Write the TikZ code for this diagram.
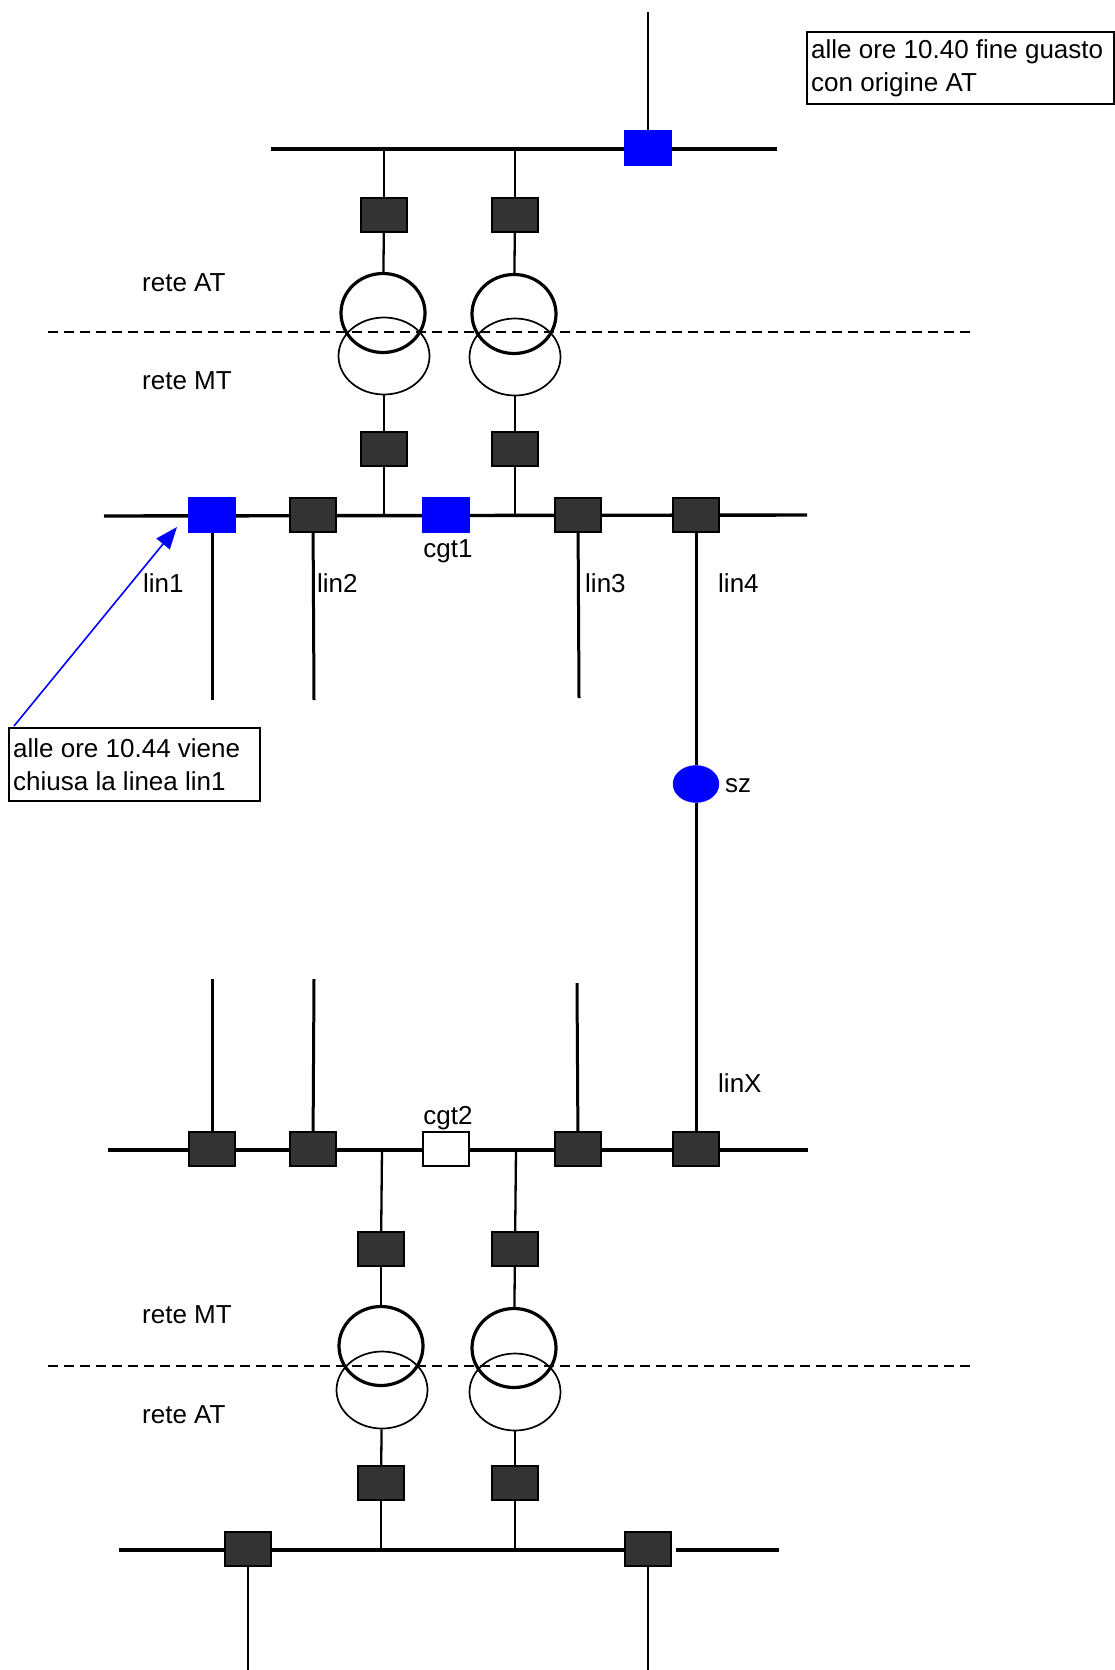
\documentclass[tikz,border=0pt]{standalone}
\usepackage{fontspec}
\setmainfont{Liberation Sans}
\usetikzlibrary{shapes.geometric,arrows.meta}
\definecolor{brk}{HTML}{333333}
\begin{document}
\begin{tikzpicture}[x=1pt,y=-1pt,
  brkbox/.style={rectangle,minimum width=46pt,minimum height=34pt,inner sep=0pt,draw=black,line width=1.5pt,fill=brk},
  bluebox/.style={brkbox,draw=blue,fill=blue},
  openbox/.style={brkbox,fill=white},
  bus/.style={line width=3.4pt},
  feeder/.style={line width=3pt},
  wire/.style={line width=2.3pt},
  trA/.style={ellipse,draw,line width=3.2pt,minimum width=84pt,minimum height=79pt,inner sep=0pt},
  trB/.style={ellipse,draw,line width=1.7pt,minimum width=91pt,minimum height=77pt,inner sep=0pt},
  lbl/.style={font=\fontsize{26}{31}\selectfont,inner sep=0pt},
  notebox/.style={draw,line width=1.6pt,anchor=north west,inner sep=0pt},
  notetext/.style={font=\fontsize{26}{33}\selectfont,align=left,anchor=west,inner sep=0pt},
  sepline/.style={line width=2.4pt,dash pattern=on 10pt off 6pt}
]
\useasboundingbox (0,0) rectangle (1115,1670);

% ---------- notes ----------
\node[notebox,minimum width=307pt,minimum height=72pt] (note1) at (806,31) {};
\node[notetext] (note1t) at ([xshift=5pt]note1.west) {alle ore 10.40 fine guasto\\con origine AT};
\node[notebox,minimum width=251pt,minimum height=73pt] (note2) at (8,727) {};
\node[notetext] (note2t) at ([xshift=5pt]note2.west) {alle ore 10.44 viene\\chiusa la linea lin1};

% ---------- separators and area labels ----------
\coordinate (s1a) at (48,332); \coordinate (s1b) at (971,332);
\draw[sepline] (s1a) -- (s1b);
\coordinate (s2a) at (48,1366); \coordinate (s2b) at (971,1366);
\draw[sepline] (s2a) -- (s2b);
\node[lbl,anchor=west] (lAT1) at (142,283) {rete AT};
\node[lbl,anchor=west] (lMT1) at (142,381) {rete MT};
\node[lbl,anchor=west] (lMT2) at (142,1315) {rete MT};
\node[lbl,anchor=west] (lAT2) at (142,1415) {rete AT};

% ---------- top AT station ----------
\coordinate (topin) at (648,12);
\coordinate (atL) at (271,149); \coordinate (atR) at (777,149);
\draw[bus] (atL) -- (atR);
\node[bluebox] (tb) at (648,148) {};
\draw[wire] (topin) -- (tb);

\coordinate (ta1) at (384,149); \coordinate (ta2) at (515,149);
\node[brkbox] (ub1) at (384,215) {};
\node[brkbox] (ub2) at (515,215) {};
\node[trB] (trB1) at (384,356) {};
\node[trB] (trB2) at (515,357) {};
\node[trA] (trA1) at (383,313) {};
\node[trA] (trA2) at (514,314) {};
\node[brkbox] (lb1) at (384,449) {};
\node[brkbox] (lb2) at (515,449) {};
\draw[wire] (ta1) -- (ub1);
\draw[wire] (ta2) -- (ub2);
\draw[wire] (ub1) -- (trA1);
\draw[wire] (ub2) -- (trA2);
\draw[wire] (trB1) -- (lb1);
\draw[wire] (trB2) -- (lb2);

% ---------- top MT bus ----------
\coordinate (mtL) at (104,516); \coordinate (mtR) at (807,515);
\draw[bus] (mtL) -- (mtR);
\coordinate (tm1) at (384,516); \coordinate (tm2) at (515,516);
\draw[wire] (lb1) -- (tm1);
\draw[wire] (lb2) -- (tm2);
\node[bluebox] (b1) at (212,515) {};
\node[brkbox] (b2) at (313,515) {};
\node[bluebox] (cg1) at (446,515) {};
\node[brkbox] (b3) at (578,515) {};
\node[brkbox] (b4) at (696,515) {};
\node[lbl] (cgt1) at (448,551) {cgt1};

\coordinate (f1) at (212,700);
\coordinate (f2) at (314,700);
\coordinate (f3) at (579,698);
\draw[feeder] (b1) -- (f1);
\draw[feeder] (b2) -- (f2);
\draw[feeder] (b3) -- (f3);
\node[lbl,anchor=west] (lin1) at (143,583) {lin1};
\node[lbl,anchor=west] (lin2) at (317,583) {lin2};
\node[lbl,anchor=west] (lin3) at (585,583) {lin3};
\node[lbl,anchor=west] (lin4) at (718,583) {lin4};

% ---------- sz ----------
\node[ellipse,fill=blue,draw=blue,minimum width=46pt,minimum height=37pt,inner sep=0pt] (sz) at (696,784) {};
\node[lbl,anchor=west] (szl) at (725,786) {sz};
\draw[feeder] (b4) -- (sz);

% ---------- annotation arrow ----------
\coordinate (arS) at (14,726);
\coordinate (arT) at (177,527);
\draw[blue,line width=1.6pt,-{Triangle[length=22pt,width=17pt]}] (arS) -- (arT);

% ---------- lower MT bus ----------
\coordinate (m2L) at (108,1150); \coordinate (m2R) at (808,1150);
\draw[bus] (m2L) -- (m2R);
\node[brkbox] (c1) at (212,1149) {};
\node[brkbox] (c2) at (313,1149) {};
\node[openbox] (cg2) at (446,1149) {};
\node[brkbox] (c3) at (578,1149) {};
\node[brkbox] (c4) at (696,1149) {};
\node[lbl] (cgt2) at (448,1118) {cgt2};
\coordinate (g1) at (212,979);
\coordinate (g2) at (314,979);
\coordinate (g3) at (577,983);
\draw[feeder] (g1) -- (c1);
\draw[feeder] (g2) -- (c2);
\draw[feeder] (g3) -- (c3);
\draw[feeder] (sz) -- (c4);
\node[lbl,anchor=west] (linX) at (718,1083) {linX};

% ---------- lower transformers ----------
\coordinate (bm1) at (382,1150); \coordinate (bm2) at (516,1150);
\node[brkbox] (ub3) at (381,1249) {};
\node[brkbox] (ub4) at (515,1249) {};
\node[trB] (trB3) at (382,1390) {};
\node[trB] (trB4) at (515,1392) {};
\node[trA] (trA3) at (381,1346) {};
\node[trA] (trA4) at (514,1348) {};
\node[brkbox] (lb3) at (381,1483) {};
\node[brkbox] (lb4) at (515,1483) {};
\draw[wire] (bm1) -- (ub3);
\draw[wire] (bm2) -- (ub4);
\draw[wire] (ub3) -- (trA3);
\draw[wire] (ub4) -- (trA4);
\draw[wire] (trB3) -- (lb3);
\draw[wire] (trB4) -- (lb4);

% ---------- lower AT bus ----------
\coordinate (a2L) at (119,1550); \coordinate (a2M) at (625,1550);
\coordinate (a2N) at (676,1550); \coordinate (a2R) at (779,1550);
\draw[bus] (a2L) -- (a2M);
\draw[bus] (a2N) -- (a2R);
\coordinate (ba1) at (381,1550); \coordinate (ba2) at (515,1550);
\draw[wire] (lb3) -- (ba1);
\draw[wire] (lb4) -- (ba2);
\node[brkbox] (d1) at (248,1549) {};
\node[brkbox] (d2) at (648,1549) {};
\coordinate (e1) at (248,1670);
\coordinate (e2) at (648,1670);
\draw[wire] (d1) -- (e1);
\draw[wire] (d2) -- (e2);
\end{tikzpicture}
\end{document}
